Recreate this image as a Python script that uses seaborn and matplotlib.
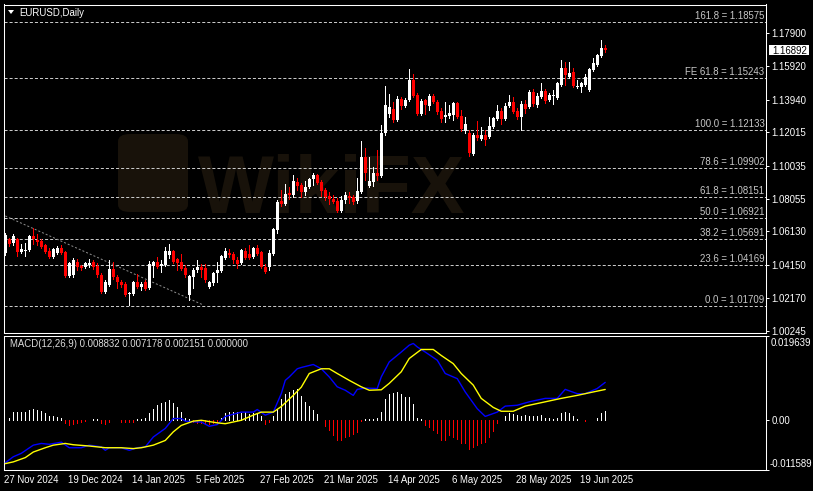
import numpy as np
import pandas as pd
import matplotlib
matplotlib.use("Agg")
import matplotlib.pyplot as plt
import matplotlib.transforms as mtransforms
from matplotlib.patches import Rectangle, Polygon, FancyBboxPatch
import seaborn as sns

# ---------------- data ----------------
opens = [1.0486, 1.0569, 1.0545, 1.0569, 1.0492, 1.0498, 1.0504, 1.0586, 1.0563, 1.0557,
         1.0533, 1.0498, 1.0462, 1.0486, 1.0516, 1.0492, 1.0349, 1.0355, 1.0432, 1.0409,
         1.0403, 1.0415, 1.0432, 1.0409, 1.0355, 1.0254, 1.0296, 1.0391, 1.0343, 1.0314,
         1.0302, 1.0242, 1.0242, 1.0314, 1.0284, 1.0314, 1.0278, 1.0409, 1.0432, 1.0409,
         1.0415, 1.0474, 1.0498, 1.0451, 1.0432, 1.0397, 1.0237, 1.0343, 1.0385, 1.0403,
         1.0397, 1.0284, 1.0308, 1.0367, 1.0379, 1.0457, 1.0486, 1.0480, 1.0444, 1.0426,
         1.0498, 1.0480, 1.0462, 1.0516, 1.0492, 1.0403, 1.0403, 1.0480, 1.0622, 1.0794,
         1.0776, 1.0841, 1.0829, 1.0907, 1.0889, 1.0847, 1.0877, 1.0924, 1.0948, 1.0907,
         1.0859, 1.0824, 1.0806, 1.0794, 1.0735, 1.0800, 1.0824, 1.0818, 1.0794, 1.0847,
         1.1055, 1.0883, 1.0907, 1.0960, 1.0942, 1.1197, 1.1310, 1.1340, 1.1274, 1.1399,
         1.1357, 1.1393, 1.1512, 1.1423, 1.1310, 1.1393, 1.1357, 1.1417, 1.1381, 1.1328,
         1.1292, 1.1298, 1.1304, 1.1375, 1.1298, 1.1209, 1.1197, 1.1073, 1.1185, 1.1162,
         1.1185, 1.1174, 1.1233, 1.1280, 1.1328, 1.1280, 1.1357, 1.1381, 1.1328, 1.1292,
         1.1369, 1.1351, 1.1440, 1.1363, 1.1411, 1.1446, 1.1393, 1.1417, 1.1405, 1.1482,
         1.1583, 1.1529, 1.1559, 1.1470, 1.1470, 1.1482, 1.1452, 1.1571, 1.1601, 1.1654,
         1.1701]
highs = [1.0604, 1.0575, 1.0598, 1.0575, 1.0539, 1.0545, 1.0592, 1.0634, 1.0598, 1.0569,
         1.0539, 1.0516, 1.0516, 1.0527, 1.0533, 1.0498, 1.0432, 1.0457, 1.0451, 1.0415,
         1.0432, 1.0451, 1.0444, 1.0426, 1.0367, 1.0326, 1.0444, 1.0432, 1.0355, 1.0326,
         1.0314, 1.0254, 1.0320, 1.0361, 1.0314, 1.0326, 1.0438, 1.0438, 1.0462, 1.0444,
         1.0521, 1.0539, 1.0504, 1.0457, 1.0480, 1.0415, 1.0355, 1.0397, 1.0444, 1.0420,
         1.0420, 1.0320, 1.0373, 1.0432, 1.0474, 1.0516, 1.0510, 1.0492, 1.0462, 1.0510,
         1.0516, 1.0533, 1.0521, 1.0533, 1.0498, 1.0420, 1.0504, 1.0634, 1.0800, 1.0859,
         1.0895, 1.0877, 1.0948, 1.0930, 1.0901, 1.0913, 1.0930, 1.0960, 1.0954, 1.0919,
         1.0871, 1.0847, 1.0829, 1.0812, 1.0824, 1.0847, 1.0847, 1.0829, 1.0930, 1.1150,
         1.1109, 1.1055, 1.0995, 1.1097, 1.1245, 1.1476, 1.1429, 1.1381, 1.1417, 1.1411,
         1.1405, 1.1577, 1.1547, 1.1434, 1.1399, 1.1399, 1.1429, 1.1429, 1.1393, 1.1346,
         1.1381, 1.1363, 1.1381, 1.1381, 1.1334, 1.1292, 1.1215, 1.1197, 1.1268, 1.1233,
         1.1215, 1.1292, 1.1292, 1.1363, 1.1346, 1.1375, 1.1423, 1.1411, 1.1346, 1.1387,
         1.1393, 1.1452, 1.1458, 1.1434, 1.1494, 1.1458, 1.1434, 1.1452, 1.1500, 1.1630,
         1.1618, 1.1618, 1.1583, 1.1512, 1.1500, 1.1547, 1.1583, 1.1642, 1.1666, 1.1749,
         1.1719]
lows = [1.0474, 1.0527, 1.0533, 1.0468, 1.0486, 1.0468, 1.0498, 1.0539, 1.0533, 1.0516,
        1.0486, 1.0457, 1.0457, 1.0480, 1.0480, 1.0343, 1.0343, 1.0343, 1.0385, 1.0385,
        1.0397, 1.0403, 1.0391, 1.0343, 1.0248, 1.0248, 1.0290, 1.0332, 1.0278, 1.0284,
        1.0231, 1.0177, 1.0237, 1.0278, 1.0266, 1.0266, 1.0272, 1.0343, 1.0397, 1.0373,
        1.0409, 1.0457, 1.0426, 1.0385, 1.0385, 1.0343, 1.0207, 1.0278, 1.0373, 1.0343,
        1.0314, 1.0278, 1.0296, 1.0314, 1.0373, 1.0451, 1.0462, 1.0426, 1.0397, 1.0420,
        1.0451, 1.0451, 1.0457, 1.0474, 1.0397, 1.0367, 1.0385, 1.0474, 1.0604, 1.0764,
        1.0770, 1.0806, 1.0818, 1.0859, 1.0818, 1.0829, 1.0871, 1.0889, 1.0895, 1.0824,
        1.0800, 1.0776, 1.0782, 1.0729, 1.0729, 1.0782, 1.0782, 1.0776, 1.0782, 1.0841,
        1.0919, 1.0877, 1.0883, 1.0919, 1.0936, 1.1185, 1.1292, 1.1263, 1.1268, 1.1340,
        1.1351, 1.1387, 1.1411, 1.1304, 1.1304, 1.1310, 1.1334, 1.1375, 1.1310, 1.1263,
        1.1263, 1.1286, 1.1274, 1.1286, 1.1209, 1.1197, 1.1061, 1.1067, 1.1156, 1.1156,
        1.1126, 1.1168, 1.1227, 1.1274, 1.1251, 1.1274, 1.1351, 1.1316, 1.1280, 1.1215,
        1.1316, 1.1346, 1.1357, 1.1351, 1.1405, 1.1375, 1.1387, 1.1369, 1.1399, 1.1476,
        1.1482, 1.1523, 1.1470, 1.1464, 1.1440, 1.1476, 1.1446, 1.1565, 1.1595, 1.1648,
        1.1678]
closes = [1.0592, 1.0539, 1.0586, 1.0492, 1.0510, 1.0504, 1.0586, 1.0569, 1.0551, 1.0521,
          1.0492, 1.0462, 1.0510, 1.0516, 1.0486, 1.0349, 1.0426, 1.0444, 1.0403, 1.0397,
          1.0426, 1.0426, 1.0403, 1.0355, 1.0254, 1.0314, 1.0391, 1.0343, 1.0314, 1.0296,
          1.0237, 1.0248, 1.0314, 1.0284, 1.0302, 1.0272, 1.0420, 1.0432, 1.0403, 1.0420,
          1.0498, 1.0498, 1.0432, 1.0426, 1.0391, 1.0355, 1.0349, 1.0385, 1.0403, 1.0385,
          1.0326, 1.0314, 1.0367, 1.0385, 1.0468, 1.0498, 1.0474, 1.0444, 1.0420, 1.0504,
          1.0457, 1.0457, 1.0516, 1.0480, 1.0403, 1.0373, 1.0486, 1.0628, 1.0788, 1.0776,
          1.0835, 1.0829, 1.0913, 1.0883, 1.0847, 1.0877, 1.0924, 1.0948, 1.0901, 1.0853,
          1.0818, 1.0806, 1.0788, 1.0735, 1.0800, 1.0829, 1.0812, 1.0788, 1.0853, 1.1055,
          1.0960, 1.0913, 1.0960, 1.0942, 1.1197, 1.1363, 1.1351, 1.1274, 1.1399, 1.1357,
          1.1393, 1.1512, 1.1417, 1.1310, 1.1387, 1.1363, 1.1417, 1.1381, 1.1322, 1.1280,
          1.1304, 1.1316, 1.1375, 1.1292, 1.1221, 1.1251, 1.1079, 1.1185, 1.1168, 1.1185,
          1.1156, 1.1239, 1.1286, 1.1328, 1.1280, 1.1357, 1.1381, 1.1322, 1.1292, 1.1369,
          1.1340, 1.1440, 1.1369, 1.1417, 1.1446, 1.1387, 1.1423, 1.1423, 1.1494, 1.1583,
          1.1541, 1.1553, 1.1476, 1.1476, 1.1494, 1.1529, 1.1577, 1.1612, 1.1660, 1.1701,
          1.16892]

# MACD main line (blue) and signal (yellow): sampled points (bar index, value)
macd_idx = [0, 2, 4, 7, 9, 11, 14, 16, 19, 21, 24, 25, 26, 29, 31, 33, 35, 37, 40, 42,
            44, 45, 48, 49, 51, 53, 55, 59, 62, 63, 65, 67, 69, 70, 71, 73, 74, 77, 79, 81,
            83, 85, 87, 88, 90, 93, 94, 96, 99, 101, 102, 103, 105, 108, 110, 113, 115, 118, 120, 123,
            125, 128, 131, 135, 138, 140, 143, 145, 148, 150]
macd_val = [-0.0099, -0.0085, -0.0077, -0.0058, -0.0054, -0.0056, -0.0051, -0.0064, -0.0064, -0.0058,
            -0.0062, -0.0070, -0.0064, -0.0064, -0.0070, -0.0064, -0.0062, -0.0039, -0.0019, 0.0004,
            0.0004, -0.0002, -0.0004, -0.0004, -0.0014, -0.0010, 0.0009, 0.0019, 0.0019, 0.0025,
            0.0012, 0.0019, 0.0062, 0.0093, 0.0101, 0.0120, 0.0123, 0.0130, 0.0120, 0.0101,
            0.0078, 0.0070, 0.0058, 0.0072, 0.0075, 0.0074, 0.0101, 0.0136, 0.0159, 0.0175,
            0.0179, 0.0171, 0.0159, 0.0140, 0.0109, 0.0097, 0.0066, 0.0027, 0.0009, 0.0019,
            0.0033, 0.0035, 0.0043, 0.0051, 0.0051, 0.0072, 0.0062, 0.0062, 0.0074, 0.008832]
signal_idx = [0, 2, 5, 7, 10, 12, 15, 17, 21, 25, 29, 32, 34, 37, 40, 42, 44, 47, 49, 53,
              55, 59, 62, 64, 67, 69, 72, 74, 76, 79, 81, 83, 86, 89, 91, 94, 96, 99, 101, 104,
              107, 109, 112, 114, 117, 119, 122, 124, 127, 130, 135, 139, 143, 147, 150]
signal_val = [-0.0101, -0.0097, -0.0087, -0.0074, -0.0064, -0.0058, -0.0054, -0.0057, -0.0060, -0.0064,
              -0.0064, -0.0066, -0.0064, -0.0058, -0.0047, -0.0027, -0.0012, -0.0002, 0.0000, -0.0006,
              -0.0008, 0.0000, 0.0012, 0.0019, 0.0019, 0.0032, 0.0058, 0.0077, 0.0109, 0.0120,
              0.0120, 0.0109, 0.0093, 0.0078, 0.0070, 0.0071, 0.0086, 0.0113, 0.0144, 0.0165,
              0.0165, 0.0151, 0.0132, 0.0109, 0.0082, 0.0051, 0.0030, 0.0021, 0.0021, 0.0033,
              0.0043, 0.0051, 0.0058, 0.0066, 0.007178]
hist_val = [0.0001, 0.0006, 0.0019, 0.0019, 0.0019, 0.0019, 0.0025, 0.0027, 0.0025, 0.0022,
            0.0017, 0.0009, 0.0009, 0.0008, 0.0006, -0.0006, -0.0012, -0.0008, -0.0006, -0.0005,
            -0.0002, 0.0000, 0.0003, 0.0002, -0.0006, -0.0009, -0.0005, 0.0000, 0.0000, -0.0004,
            -0.0005, -0.0005, -0.0003, 0.0002, 0.0003, 0.0005, 0.0017, 0.0027, 0.0035, 0.0040,
            0.0043, 0.0047, 0.0040, 0.0031, 0.0019, 0.0006, 0.0002, -0.0004, -0.0006, -0.0006,
            -0.0008, -0.0008, -0.0006, -0.0004, 0.0006, 0.0016, 0.0019, 0.0019, 0.0019, 0.0017,
            0.0019, 0.0014, 0.0017, 0.0014, 0.0009, -0.0009, -0.0004, 0.0009, 0.0027, 0.0050,
            0.0062, 0.0066, 0.0071, 0.0074, 0.0056, 0.0043, 0.0033, 0.0025, 0.0014, 0.0001,
            -0.0014, -0.0023, -0.0035, -0.0045, -0.0045, -0.0039, -0.0037, -0.0031, -0.0027, -0.0002,
            0.0004, 0.0004, 0.0004, 0.0006, 0.0020, 0.0050, 0.0062, 0.0064, 0.0066, 0.0062,
            0.0054, 0.0054, 0.0037, 0.0006, 0.0002, -0.0010, -0.0016, -0.0023, -0.0030, -0.0045,
            -0.0047, -0.0035, -0.0039, -0.0043, -0.0053, -0.0054, -0.0066, -0.0062, -0.0058, -0.0054,
            -0.0050, -0.0039, -0.0025, -0.0006, 0.0001, 0.0009, 0.0017, 0.0014, 0.0012, 0.0009,
            0.0012, 0.0009, 0.0009, 0.0009, 0.0012, 0.0006, 0.0005, 0.0004, 0.0006, 0.0017,
            0.0019, 0.0017, 0.0009, 0.0002, 0.0000, -0.0002, 0.0000, 0.0001, 0.0006, 0.0017,
            0.0021]

fib_levels = [1.18575, 1.15243, 1.12133, 1.09902, 1.08151, 1.06921, 1.05691, 1.04169, 1.01709]
fib_labels = ["161.8 = 1.18575", "FE 61.8 = 1.15243", "100.0 = 1.12133", "78.6 = 1.09902",
              "61.8 = 1.08151", "50.0 = 1.06921", "38.2 = 1.05691", "23.6 = 1.04169",
              "0.0 = 1.01709"]
trend_idx = [0, 49.5]
trend_price = [1.0705, 1.0177]

price_ticks = [1.17900, 1.15920, 1.13940, 1.12015, 1.10035, 1.08055, 1.06130, 1.04150, 1.02170, 1.00245]
macd_max, macd_min = 0.019639, -0.011589
date_idx = [0, 16, 32, 48, 64, 80, 96, 112, 128, 144]
date_labels = ["27 Nov 2024", "19 Dec 2024", "14 Jan 2025", "5 Feb 2025", "27 Feb 2025",
               "21 Mar 2025", "14 Apr 2025", "6 May 2025", "28 May 2025", "19 Jun 2025"]
symbol_title = "EURUSD,Daily"
macd_title = "MACD(12,26,9) 0.008832 0.007178 0.002151 0.000000"

# ---------------- style ----------------
sns.set_style("dark", {"axes.facecolor": "black", "figure.facecolor": "black"})
plt.rcParams['font.family'] = ['Liberation Sans', 'DejaVu Sans']
plt.rcParams['lines.scale_dashes'] = False
FS = 6.9
LW = 0.72

W, H = 813, 491
fig = plt.figure(figsize=(W / 100, H / 100), dpi=100, facecolor='black')


def rect(l, t, r, b):
    return [l / W, 1 - b / H, (r - l) / W, (b - t) / H]


ax = fig.add_axes(rect(3.5, 4.5, 766, 333))
ax2 = fig.add_axes(rect(3.5, 336, 766, 470))
for a in (ax, ax2):
    a.set_facecolor('black')
    a.grid(False)
    for s in a.spines.values():
        s.set_color('white')
        s.set_linewidth(0.75)
    a.set_xlim(-0.45, 190.2)

# watermark (behind everything)
ax.add_patch(FancyBboxPatch((118 / W, 1 - 212 / H), 70 / W, 78 / H,
                            boxstyle="round,pad=0.0,rounding_size=0.015",
                            transform=fig.transFigure, facecolor='#18120a',
                            edgecolor='none', zorder=0.2))
ax.text(198 / W, 1 - 213 / H, "WikiFX", transform=fig.transFigure, fontsize=58,
        fontweight='bold', color='#18120a', zorder=0.3, ha='left', va='baseline')

# ---------------- candles ----------------
o = np.array(opens); h = np.array(highs); l = np.array(lows); c = np.array(closes)
idx = np.arange(len(o))
up = c >= o
cols = np.where(up, 'white', '#ff0000')
ax.vlines(idx, l, h, colors=cols, linewidth=LW, antialiased=False, zorder=3)
bottom = np.minimum(o, c)
height = np.maximum(np.abs(c - o), 0.0005)
ax.bar(idx, height, bottom=bottom, width=0.75, color=cols, linewidth=0,
       antialiased=False, zorder=4)

ax.set_ylim(1.0011, 1.1959)

# fibonacci levels
blend = mtransforms.blended_transform_factory(ax.transAxes, ax.transData)
for lv, lb in zip(fib_levels, fib_labels):
    ax.axhline(lv, color='#c8c8c8', lw=LW, ls=(0, (2.2, 1.45)), zorder=2)
    ax.annotate(lb, xy=(1, lv), xycoords=blend, xytext=(-1.5, 3), textcoords='offset pixels',
                ha='right', va='baseline', fontsize=FS, color='#c8c8c8', zorder=5)
ax.plot(trend_idx, trend_price, color='#8c8c8c', lw=LW, ls=(0, (1.45, 1.45)), zorder=2)

ax.yaxis.tick_right()
ax.set_yticks(price_ticks)
ax.set_yticklabels([f"{v:.5f}" for v in price_ticks])
ax.tick_params(axis='y', colors='white', labelcolor='white', length=2.2, width=LW,
               pad=1.5, labelsize=FS, direction='out')
ax.tick_params(axis='x', bottom=False, labelbottom=False)
ax.set_xlabel(''); ax.set_ylabel('')

# current price box
fig.canvas.draw()
yp = ax.transData.transform((0, closes[-1]))[1]
fig.add_artist(Rectangle((768.5, yp - 5.4), 40.5, 10.8, transform=mtransforms.IdentityTransform(),
                         facecolor='white', edgecolor='none'))
fig.text(772.5 / W, yp / H, f"{closes[-1]:.5f}", color='black', fontsize=FS,
         ha='left', va='center_baseline')

# title
fig.add_artist(Polygon([(8, H - 10), (14, H - 10), (11, H - 14)], closed=True,
                       transform=mtransforms.IdentityTransform(), facecolor='white',
                       edgecolor='none'))
fig.text(19.5 / W, 1 - 16.2 / H, symbol_title, color='white', fontsize=FS, ha='left',
         va='baseline')

# ---------------- MACD ----------------
ax2.vlines(idx, 0, hist_val, colors=np.where(np.array(hist_val) >= 0, 'white', '#ff0000'),
           linewidth=0.7, antialiased=False, zorder=2)
dfm = pd.DataFrame({"bar": macd_idx, "value": macd_val})
dfs = pd.DataFrame({"bar": signal_idx, "value": signal_val})
sns.lineplot(data=dfm, x="bar", y="value", ax=ax2, color='#0000ff', lw=1.0, zorder=3)
sns.lineplot(data=dfs, x="bar", y="value", ax=ax2, color='#ffff00', lw=1.0, zorder=4)
ax2.set_ylim(macd_min, macd_max)
ax2.set_xlim(-0.45, 190.2)
ax2.set_xlabel(''); ax2.set_ylabel('')
ax2.yaxis.tick_right()
ax2.set_yticks([macd_min, 0, macd_max])
ax2.set_yticklabels(['', '0.00', ''])
ax2.tick_params(axis='y', colors='white', labelcolor='white', length=2.2, width=LW,
                pad=1.5, labelsize=FS, direction='out')
ax2.set_xticks(date_idx)
ax2.set_xticklabels([''] * len(date_idx))
ax2.tick_params(axis='x', colors='white', length=2.2, width=LW, direction='out')
ax2.annotate(f"{macd_max:.6f}", xy=(1, 1), xycoords='axes fraction', xytext=(5, -10),
             textcoords='offset pixels', ha='left', va='baseline', fontsize=FS, color='white')
ax2.annotate(f"{macd_min:.6f}", xy=(1, 0), xycoords='axes fraction', xytext=(3.5, 3),
             textcoords='offset pixels', ha='left', va='baseline', fontsize=FS, color='white')
ax2.annotate(macd_title, xy=(0, 1), xycoords='axes fraction', xytext=(6.5, -11),
             textcoords='offset pixels', ha='left', va='baseline', fontsize=FS, color='#dcdcdc')
xblend = mtransforms.blended_transform_factory(ax2.transData, ax2.transAxes)
for i, lb in zip(date_idx, date_labels):
    ax2.annotate(lb, xy=(i, 0), xycoords=xblend, xytext=(-1, -12.7), textcoords='offset pixels',
                 ha='left', va='baseline', fontsize=FS, color='white', annotation_clip=False)

fig.savefig("out.png", dpi=100, facecolor='black')
